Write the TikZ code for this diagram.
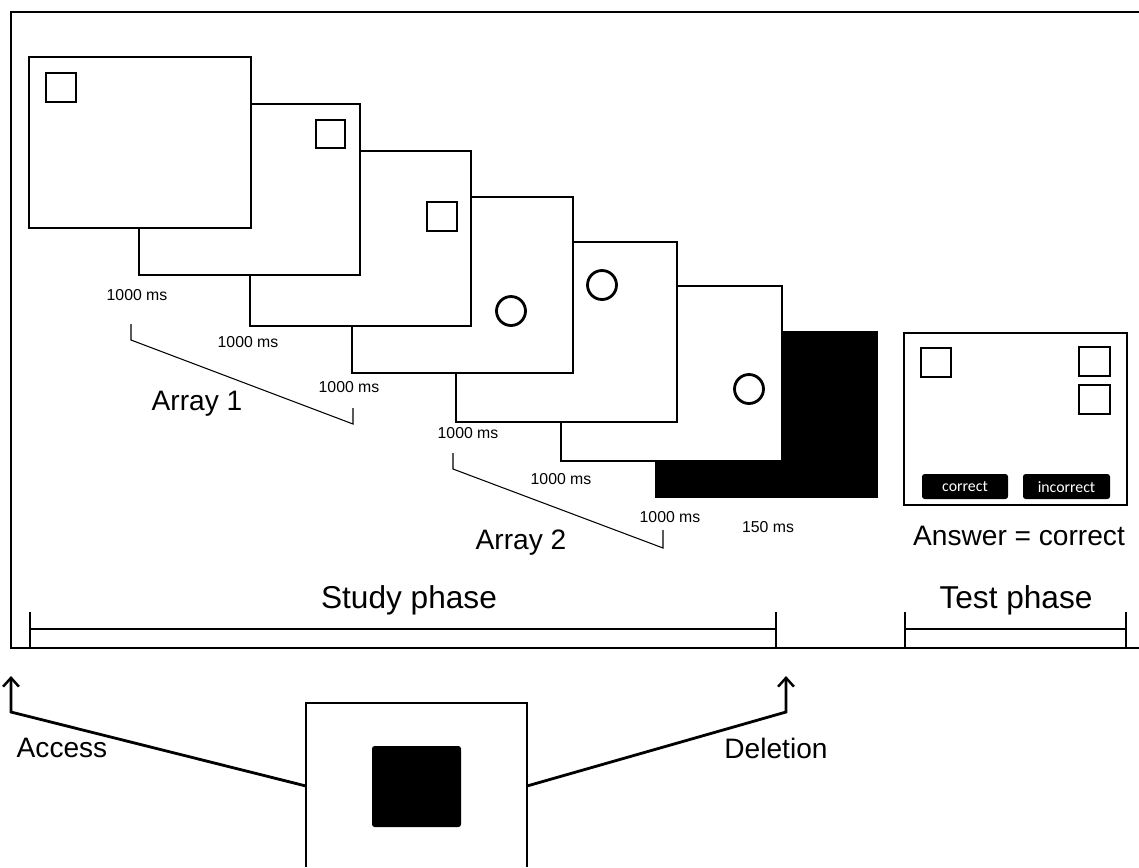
\documentclass[tikz,border=0pt]{standalone}
\usepackage{fontspec}
\setmainfont{Liberation Sans}
\newfontfamily\buttonfont{Carlito}
\usetikzlibrary{arrows.meta}
\begin{document}
\begin{tikzpicture}[x=0.02cm, y=-0.02cm,
frame/.style={line width=1.6pt},
thinline/.style={line width=0.6pt},
pointer/.style={line width=1.6pt, -{Straight Barb[length=5pt,width=9pt,line width=1.4pt]}},
ms/.style={font=\fontsize{9}{10}\selectfont, inner sep=0pt},
big/.style={font=\fontsize{16}{18}\selectfont, inner sep=0pt},
phase/.style={font=\fontsize{18}{20}\selectfont, inner sep=0pt},
button/.style={fill=black, rounded corners=1.5pt},
buttontext/.style={text=white, font=\buttonfont\fontsize{9}{10}\selectfont, inner sep=0pt}]
\useasboundingbox (0,0) rectangle (1139,867);

% outer frame, open at the right
\draw[frame] (1139,12) -- (11,12) -- (11,648) -- (1139,648);

% screens of the study phase, back to front
\fill (655,331) rectangle (878,498);
\foreach \l/\t/\r/\b in {561/286/782/461, 456/242/677/422, 352/197/573/373,
                         250/151/471/326, 139/104/360/275, 29/57/251/228}
  \draw[frame, fill=white] (\l,\t) rectangle (\r,\b);

% items in the screens
\draw[frame] (46,73) rectangle (76,102);
\draw[frame] (316,120) rectangle (345,148);
\draw[frame] (427,202) rectangle (457,231);
\draw[frame] (511,311) circle[radius=0.29cm];
\draw[frame] (602,285) circle[radius=0.29cm];
\draw[frame] (749,389) circle[radius=0.29cm];

% durations
\node[ms] (d1) at (137,295) {1000 ms};
\node[ms] (d2) at (248,342) {1000 ms};
\node[ms] (d3) at (349,387) {1000 ms};
\node[ms] (d4) at (468,433) {1000 ms};
\node[ms] (d5) at (561,479) {1000 ms};
\node[ms] (d6) at (670,517) {1000 ms};
\node[ms] (d7) at (768,527) {150 ms};

% arrays
\draw[thinline] (131,324) -- (131,340) -- (353,424) -- (353,408);
\draw[thinline] (453,453) -- (453,469) -- (663,548) -- (663,530);
\node[big] (array1) at (197,404) {Array 1};
\node[big] (array2) at (521,543) {Array 2};

% test screen
\draw[frame] (904,333) rectangle (1127,505);
\draw[frame] (921,348) rectangle (951,377);
\draw[frame] (1079,347) rectangle (1110,376);
\draw[frame] (1079,385) rectangle (1110,414);
\fill[button] (922,474) rectangle (1008,499);
\fill[button] (1023,474) rectangle (1110,499);
\node[buttontext] (correct) at (965,487) {correct};
\node[buttontext] (incorrect) at (1066.5,487) {incorrect};
\node[big] (answer) at (1019,536) {Answer = correct};

% phases
\draw[frame] (30,612) -- (30,648);
\draw[frame] (776,612) -- (776,648);
\draw[frame] (30,629) -- (776,629);
\draw[frame] (905,612) -- (905,648);
\draw[frame] (1126,612) -- (1126,648);
\draw[frame] (905,629) -- (1126,629);
\node[phase] (study) at (409,600) {Study phase};
\node[phase] (test) at (1016,600) {Test phase};

% probe screen
\draw[frame] (306,867) -- (306,703) -- (527,703) -- (527,867);
\fill[rounded corners=1.5pt] (372,746) rectangle (461,827);
\coordinate (probeleft) at (306,786);
\coordinate (proberight) at (527,786);
\coordinate (accesscorner) at (11,712);
\coordinate (accesstip) at (11,676);
\coordinate (deletioncorner) at (786,712);
\coordinate (deletiontip) at (786,676);
\draw[pointer] (probeleft) -- (accesscorner) -- (accesstip);
\draw[pointer] (proberight) -- (deletioncorner) -- (deletiontip);
\node[big] (access) at (62,748) {Access};
\node[big] (deletion) at (776,748) {Deletion};
\end{tikzpicture}
\end{document}
